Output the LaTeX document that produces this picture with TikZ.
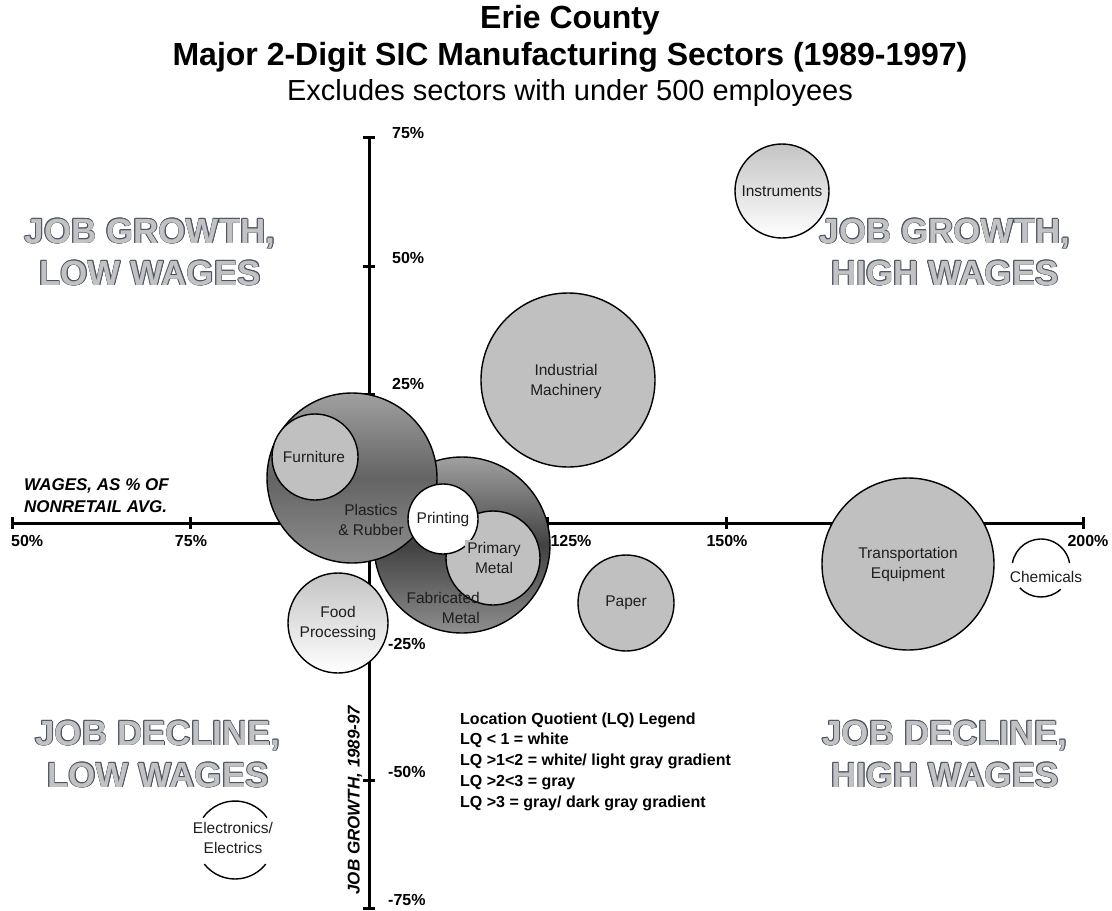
\documentclass[tikz,border=0pt]{standalone}
\usepackage{fontspec}
\setmainfont{Liberation Sans}
\usepackage{xcolor}
\usetikzlibrary{calc}
\definecolor{bubgray}{HTML}{C0C0C0}
\definecolor{lightgr}{HTML}{C4C4C4}
\definecolor{gtop}{HTML}{A0A0A0}
\definecolor{gbot}{HTML}{8E8E8E}
\definecolor{plasmid}{HTML}{646464}
\definecolor{fabmid}{HTML}{424242}
\definecolor{quadfill}{HTML}{C2C2C2}
\definecolor{quadrim}{HTML}{4A5266}
\definecolor{ink}{HTML}{1E1E1E}
\tikzset{
  axisline/.style={draw=black, line width=3pt},
  bub/.style={circle, draw=black, line width=1.4pt, inner sep=0pt, outer sep=0pt},
  flatbub/.style={bub, fill=bubgray},
  whitebub/.style={bub, fill=white},
  lightbub/.style={bub, top color=lightgr, bottom color=white},
  darkbub/.style={bub, top color=gtop, bottom color=gbot, middle color=#1},
  ghost/.style={circle, inner sep=0pt, outer sep=0pt},
  rim/.style={draw=black, line width=1.4pt},
  lab/.style={text=ink, font=\fontsize{15.5}{20}\selectfont, align=center, inner sep=0pt},
  ticklab/.style={font=\bfseries\fontsize{16}{18}\selectfont, inner sep=0pt},
  axtitle/.style={font=\bfseries\itshape\fontsize{17}{22}\selectfont, inner sep=0pt},
  legline/.style={font=\bfseries\fontsize{16}{20}\selectfont, inner sep=0pt, anchor=west,
    text height=11.5pt, text depth=3.5pt},
  titlefont/.style={font=\bfseries\fontsize{32}{38}\selectfont, inner sep=0pt},
  subfont/.style={font=\fontsize{29}{34}\selectfont, inner sep=0pt},
  quadtxt/.style={font=\bfseries\fontsize{35}{42}\selectfont, align=center, inner sep=0pt},
}
% outlined quadrant caption: name, position, text
\newcommand\quadtext[3]{%
  \foreach \dx/\dy [count=\k] in {-.7/0,.7/0,0/-.7,0/.7,-.5/-.5,.5/-.5,-.5/.5,.5/.5}
    \node[quadtxt, text=quadrim] (#1-\k) at ($(#2)+(\dx,\dy)$) {#3};
  \node[quadtxt, text=quadfill] (#1) at (#2) {#3};
}

\begin{document}
\begin{tikzpicture}[x=1pt, y=-1pt]
  \useasboundingbox (0,0) rectangle (1112,911);

  % titles
  \node[titlefont] (ttl1) at (570,20) {Erie County};
  \node[titlefont] (ttl2) at (570,57) {Major 2-Digit SIC Manufacturing Sectors (1989-1997)};
  \node[subfont] (ttl3) at (570,93) {Excludes sectors with under 500 employees};

  % quadrant captions
  \quadtext{qgl}{150,252}{JOB GROWTH,\\LOW WAGES}
  \quadtext{qgh}{945,252}{JOB GROWTH,\\HIGH WAGES}
  \quadtext{qdl}{158,754}{JOB DECLINE,\\LOW WAGES}
  \quadtext{qdh}{945,754}{JOB DECLINE,\\HIGH WAGES}

  % axes
  \coordinate (xl) at (12,523);
  \coordinate (xr) at (1083,523);
  \coordinate (yt) at (369,137.5);
  \coordinate (yb) at (369,908.5);
  \draw[axisline] (xl) -- (xr);
  \draw[axisline] (yt) -- (yb);
  \foreach \i in {0,...,6}
    \draw[axisline] ($(xl)+(\i*178.5,-6)$) -- ++(0,12);
  \foreach \i in {0,...,6}
    \draw[axisline] ($(yt)+(-6,\i*128.5)$) -- ++(12,0);

  % tick labels
  \node[ticklab, anchor=west] (x50) at (11,541) {50\%};
  \node[ticklab] (x75) at (191,541) {75\%};
  \node[ticklab] (x125) at (571,541) {125\%};
  \node[ticklab] (x150) at (727,541) {150\%};
  \node[ticklab] (x200) at (1088,541) {200\%};
  \foreach \v/\x/\y [count=\k] in {75\%/392/133, 50\%/392/258, 25\%/392/384,
      -25\%/388/644, -50\%/388/772, -75\%/388/900}
    \node[ticklab, anchor=west] (y\k) at (\x,\y) {\v};

  % axis titles
  \node[axtitle, anchor=west, align=left] (xtitle) at (24,496) {WAGES, AS \% OF\\NONRETAIL AVG.};
  \node[axtitle, rotate=90] (ytitle) at (355,800) {JOB GROWTH, 1989-97};

  % bubbles
  \node[lightbub, minimum size=94pt] (inst) at (782,191) {};
  \node[flatbub, minimum size=174pt] (mach) at (568,380) {};
  \node[darkbub=fabmid, minimum size=176pt] (fab) at (462,545) {};
  \node[darkbub=plasmid, minimum size=170pt] (plas) at (352,478) {};
  \node[flatbub, minimum size=86pt] (furn) at (315,457) {};
  \node[flatbub, minimum size=94pt] (prim) at (493,558) {};
  \node[whitebub, minimum size=70pt] (print) at (443,519) {};
  \node[lightbub, minimum size=100pt] (food) at (338,623) {};
  \node[flatbub, minimum size=96pt] (paper) at (626,603) {};
  \node[flatbub, minimum size=172pt] (trans) at (908,564) {};
  \node[ghost, minimum size=58pt] (chem) at (1041,568) {};
  \draw[rim] (chem.170) arc[start angle=-170, end angle=-10, radius=29];
  \draw[rim] (chem.223) arc[start angle=-223, end angle=-313, radius=29];
  \node[ghost, minimum size=78pt] (elec) at (235,840) {};
  \draw[rim] (elec.145) arc[start angle=-145, end angle=-35, radius=39];
  \draw[rim] (elec.218) arc[start angle=-218, end angle=-322, radius=39];

  % bubble labels
  \node[lab] (inst-t) at (782,191) {Instruments};
  \node[lab] (mach-t) at (566,381) {Industrial\\Machinery};
  \node[lab] (furn-t) at (314,457) {Furniture};
  \node[lab] (plas-t) at (371,520) {Plastics\\\& Rubber};
  \node[lab] (print-t) at (443,519) {Printing};
  \node[lab, fill=bubgray, inner sep=2pt] (prim-t) at (494,558) {Primary\\Metal};
  \node[lab, align=right, anchor=east] (fab-t) at (480,608) {Fabricated\\Metal};
  \node[lab] (food-t) at (338,623) {Food\\Processing};
  \node[lab] (paper-t) at (626,603) {Paper};
  \node[lab] (trans-t) at (908,564) {Transportation\\Equipment};
  \node[lab] (chem-t) at (1046,577) {Chemicals};
  \node[lab] (elec-t) at (233,838) {Electronics/\\Electrics};

  % legend
  \foreach \t [count=\k from 0] in {{Location Quotient (LQ) Legend}, {LQ < 1 = white},
      {LQ >1<2 = white/ light gray gradient}, {LQ >2<3 = gray}, {LQ >3 = gray/ dark gray gradient}}
    \node[legline] (leg\k) at (460,720+\k*20.75) {\t};
\end{tikzpicture}
\end{document}
